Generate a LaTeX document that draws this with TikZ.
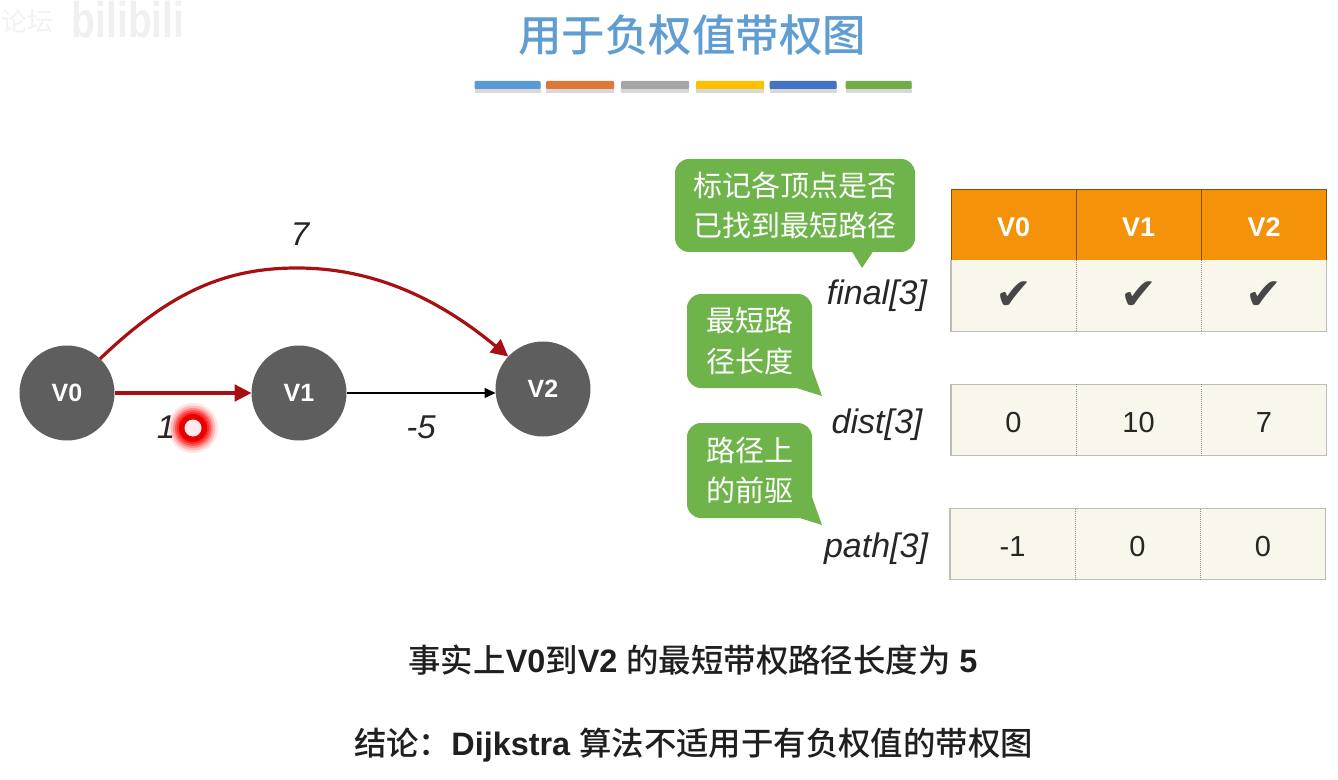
\documentclass[tikz,border=0pt]{standalone}
\usepackage{fontspec}
\usetikzlibrary{arrows.meta,calc}
\setmainfont{Liberation Sans}
\newfontfamily\cjk[BoldFont={Noto Sans CJK SC Medium}]{Noto Sans CJK SC}
\newfontfamily\dejavu{DejaVu Sans}
\newdimen\pxu \pxu=0.75pt
\newcommand{\fs}[1]{\fontsize{#1\pxu}{#1\pxu}\selectfont}
\definecolor{titleblue}{HTML}{5F9DD2}
\definecolor{bar1}{HTML}{5B9BD5}
\definecolor{bar2}{HTML}{E0773A}
\definecolor{bar3}{HTML}{A5A5A5}
\definecolor{bar4}{HTML}{FFC000}
\definecolor{bar5}{HTML}{4472C4}
\definecolor{bar6}{HTML}{70AD47}
\definecolor{bubgreen}{HTML}{6FB44B}
\definecolor{orangehead}{HTML}{F4930A}
\definecolor{cream}{HTML}{F9F7EC}
\definecolor{cellline}{HTML}{BDBDB8}
\definecolor{nodegray}{HTML}{5E5E5E}
\definecolor{darkred}{HTML}{A80F12}
\tikzset{
  barbox/.style={fill=#1, draw=none, minimum height=6pt, inner sep=0pt, outer sep=0pt, rounded corners=0.75pt},
  vertex/.style={circle, fill=nodegray, draw=none, minimum size=71.25pt, inner sep=0pt, outer sep=0pt, text=white, font=\fs{25}\bfseries},
  bubble/.style={fill=bubgreen, draw=none, rounded corners=10.5pt, inner sep=0pt, outer sep=0pt, text=white, align=center, font=\cjk\fs{29}},
  headcell/.style={fill=orangehead, draw=black!45!orangehead, line width=0.6pt, minimum width=93.75pt, minimum height=53.25pt, inner sep=0pt, outer sep=0pt, text=white, text height=17.25pt, text depth=0pt, font=\fs{27}\bfseries},
  bodycell/.style={fill=cream, draw=none, minimum width=93.75pt, minimum height=53.25pt, inner sep=0pt, outer sep=0pt, text=black!85, font=\fs{29}},
  numcell/.style={bodycell, text height=18.75pt, text depth=0pt},
  checkcell/.style={bodycell, font=\dejavu\fs{44}, text=black!72},
  rowframe/.style={draw=cellline, line width=1.1pt},
  rowsep/.style={draw=black!45, line width=0.5pt, densely dotted},
  varlabel/.style={font=\itshape\fs{34}, text=black!85, inner sep=0pt},
  weight/.style={font=\itshape\fs{33}, text=black!85, inner sep=0pt},
  redarrow/.style={draw=darkred, line width=2.4pt, -{Triangle[length=12.75pt,width=12.5pt]}},
  blackarrow/.style={draw=black, line width=1.1pt, -{Triangle[length=8.25pt,width=7.5pt]}},
  bigline/.style={font=\bfseries\fs{32.4}, text=black!88, inner sep=0pt},
}
\begin{document}
\begin{tikzpicture}[x=0.75pt,y=-0.75pt]
\useasboundingbox (0,0) rectangle (1338,780);
% watermark
\node[font=\bfseries\fs{50}, text=black!6, inner sep=0pt, xscale=.78] (wm) at (128,20) {bilibili};
\node[font=\cjk\fs{26}, text=black!5, inner sep=0pt] (wm2) at (28,22) {论坛};
% title
\node[font=\cjk\bfseries\fs{43.5}, text=titleblue, inner sep=0pt] (title) at (692,35) {用于负权值带权图};
% bars
\foreach \n/\x/\w in {1/507.5/66,2/580/68,3/655/68,4/730/68,5/803/67,6/878.5/66}{
  \fill[black!30,opacity=.5] (\x-\w/2,83) rectangle (\x+\w/2,93);
  \node[barbox=bar\n, minimum width=\w*0.75pt] (bar\n) at (\x,85) {};
}
% graph
\node[vertex] (V0) at (67,393) {V0};
\node[vertex] (V1) at (299,393) {V1};
\node[vertex] (V2) at (543,389) {V2};
\draw[redarrow] (V0.east) -- (V1.west);
\draw[blackarrow] (V1.east) -- (V1.east -| V2.west);
\draw[redarrow] (V0.46) .. controls (170,292) and (225,268) .. (297,268) .. controls (375,268) and (440,300) .. (V2.137);
\node[weight] (w7) at (300,234) {7};
\node[weight] (w1) at (166,427) {1};
\node[weight] (w5) at (421,427) {-5};
% pointer
\foreach \r/\o in {25/.1,22.5/.18,20/.28,18/.38,16/.5}{
  \fill[red,opacity=\o] (193,428) circle (\r);
}
\node[circle, fill=red!90!black, minimum size=21pt, inner sep=0pt] (ptr) at (193,428) {};
\node[circle, fill=red!8, minimum size=12.75pt, inner sep=0pt] (ptrin) at (193,428) {};
% table rows
\node[headcell] (h0) at (1013.5,225) {V0};
\node[headcell] (h1) at (1138.5,225) {V1};
\node[headcell] (h2) at (1264,225) {V2};
\node[checkcell] (f0) at (1013.5,296) {\raisebox{-1pt}{✔}};
\node[checkcell] (f1) at (1138.5,296) {\raisebox{-1pt}{✔}};
\node[checkcell] (f2) at (1264,296) {\raisebox{-1pt}{✔}};
\draw[rowframe] (h0.south west) -- (f0.south west) -- (f2.south east) -- (h2.south east);
\draw[rowsep] (f0.north east) -- (f0.south east);
\draw[rowsep] (f1.north east) -- (f1.south east);
\node[numcell] (d0) at (1013.5,420) {0};
\node[numcell] (d1) at (1138.5,420) {10};
\node[numcell] (d2) at (1264,420) {7};
\draw[rowframe] (d0.north west) rectangle (d2.south east);
\draw[rowsep] (d0.north east) -- (d0.south east);
\draw[rowsep] (d1.north east) -- (d1.south east);
\node[numcell] (p0) at (1012.5,544) {-1};
\node[numcell] (p1) at (1137.5,544) {0};
\node[numcell] (p2) at (1263,544) {0};
\draw[rowframe] (p0.north west) rectangle (p2.south east);
\draw[rowsep] (p0.north east) -- (p0.south east);
\draw[rowsep] (p1.north east) -- (p1.south east);
% labels
\node[varlabel] (lf) at (877,296) {final[3]};
\node[varlabel] (ld) at (877,425) {dist[3]};
\node[varlabel] (lp) at (876,549) {path[3]};
% bubbles
\coordinate (t1) at (862,268);
\coordinate (t2) at (822,396);
\coordinate (t3) at (822,525);
\fill[bubgreen] (851,250) -- (t1) -- (874,250) -- cycle;
\fill[bubgreen] (790,386) -- (t2) -- (812,368) -- cycle;
\fill[bubgreen] (790,515) -- (t3) -- (812,497) -- cycle;
\node[bubble, minimum width=180pt, minimum height=69.75pt] (b1) at (795,205.5) {标记各顶点是否\\[8.5pt]已找到最短路径};
\node[bubble, minimum width=93.75pt, minimum height=70.5pt] (b2) at (749.5,341) {最短路\\[8.5pt]径长度};
\node[bubble, minimum width=93.75pt, minimum height=71.25pt] (b3) at (749.5,470.5) {路径上\\[8.5pt]的前驱};
% bottom text
\node[bigline] (s1) at (693,660) {{\cjk 事实上}V0{\cjk 到}V2 {\cjk 的最短带权路径长度为} 5};
\node[bigline] (s2) at (693.5,745) {{\cjk 结论：}Dijkstra {\cjk 算法不适用于有负权值的带权图}};
\end{tikzpicture}
\end{document}
